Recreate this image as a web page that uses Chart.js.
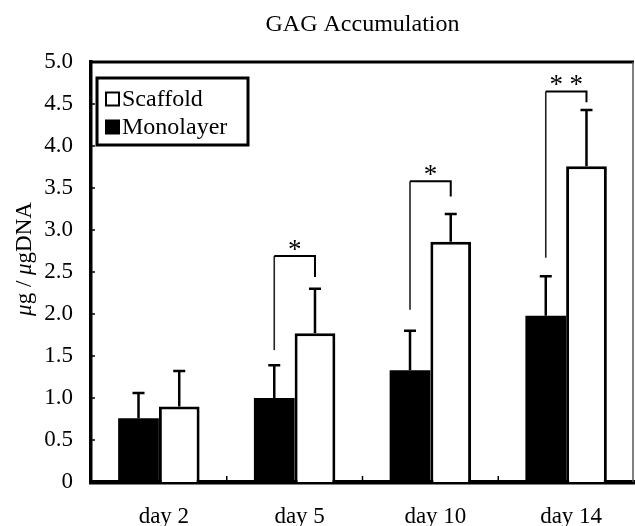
<!DOCTYPE html>
<html>
<head>
<meta charset="utf-8">
<script src="https://cdn.jsdelivr.net/npm/chart.js@4/dist/chart.umd.min.js"></script>
<style>
  html, body { margin: 0; padding: 0; background: #fff; }
  #wrap { width: 635px; height: 526px; }
</style>
</head>
<body>
<div id="wrap"><canvas id="chart"></canvas></div>
<script>
const chartTitle = 'GAG Accumulation';
const days = ['day 2', 'day 5', 'day 10', 'day 14'];
const monolayer = [0.76, 1.00, 1.33, 1.98];
const monolayerSD = [0.30, 0.39, 0.47, 0.47];
const scaffold = [0.90, 1.77, 2.86, 3.76];
const scaffoldSD = [0.42, 0.53, 0.33, 0.67];
const yTickLabels = ['0', '0.5', '1.0', '1.5', '2.0', '2.5', '3.0', '3.5', '4.0', '4.5', '5.0'];

// significance brackets (day index, top, left foot, right foot, mark)
const sigIndex = [1, 2, 3];
const sigTop = [2.69, 3.58, 4.65];
const sigLeftFoot = [1.57, 2.05, 2.67];
const sigRightFoot = [2.44, 3.40, 4.52];
const sigMark = ['*', '*', '* *'];

const SERIF = '"Liberation Serif", "Times New Roman", serif';

const extras = {
  id: 'extras',
  afterDatasetsDraw(chart) {
    const ctx = chart.ctx;
    const y = chart.scales.y;
    const x = chart.scales.x;
    const area = chart.chartArea;
    ctx.save();

    // title, centred over the plot area
    ctx.fillStyle = '#000';
    ctx.font = '24px ' + SERIF;
    ctx.textAlign = 'center';
    ctx.textBaseline = 'alphabetic';
    ctx.fillText(chartTitle, (area.left + area.right) / 2, 31);

    // error bars (upper only)
    [[0, monolayer, monolayerSD], [1, scaffold, scaffoldSD]].forEach(([di, vals, sds]) => {
      const meta = chart.getDatasetMeta(di);
      meta.data.forEach((bar, i) => {
        const top = y.getPixelForValue(vals[i] + sds[i]);
        const base = y.getPixelForValue(vals[i]);
        ctx.strokeStyle = '#000';
        ctx.lineWidth = 2.5;
        ctx.beginPath();
        ctx.moveTo(bar.x, base);
        ctx.lineTo(bar.x, top);
        ctx.moveTo(bar.x - 6, top);
        ctx.lineTo(bar.x + 6, top);
        ctx.stroke();
      });
    });

    // brackets
    const mMeta = chart.getDatasetMeta(0);
    const sMeta = chart.getDatasetMeta(1);
    sigIndex.forEach((idx, k) => {
      const lx = mMeta.data[idx].x;
      const rx = sMeta.data[idx].x;
      const ty = y.getPixelForValue(sigTop[k]);
      ctx.strokeStyle = '#222';
      ctx.lineWidth = 1.6;
      ctx.beginPath();
      ctx.moveTo(lx, y.getPixelForValue(sigLeftFoot[k]));
      ctx.lineTo(lx, ty);
      ctx.stroke();
      ctx.strokeStyle = '#000';
      ctx.lineWidth = 2;
      ctx.beginPath();
      ctx.moveTo(lx, ty);
      ctx.lineTo(rx, ty);
      ctx.lineTo(rx, y.getPixelForValue(sigRightFoot[k]));
      ctx.stroke();
      ctx.fillStyle = '#000';
      ctx.font = '27px ' + SERIF;
      ctx.textAlign = 'center';
      ctx.textBaseline = 'alphabetic';
      const cx = (lx + rx) / 2;
      const stars = sigMark[k].split(' ');
      stars.forEach((s, j) => {
        const off = (j - (stars.length - 1) / 2) * 20;
        ctx.fillText(s, cx + off, ty + 2);
      });
    });

    // frame: top and right
    ctx.strokeStyle = '#000';
    ctx.lineWidth = 3;
    ctx.beginPath();
    ctx.moveTo(area.left - 1, area.top);
    ctx.lineTo(area.right, area.top);
    ctx.stroke();
    ctx.strokeStyle = '#555';
    ctx.lineWidth = 1.5;
    ctx.beginPath();
    ctx.moveTo(area.right - 1, area.top);
    ctx.lineTo(area.right - 1, area.bottom);
    ctx.stroke();

    // inner ticks on y axis
    ctx.strokeStyle = '#000';
    ctx.lineWidth = 1.5;
    y.ticks.forEach(t => {
      const py = y.getPixelForValue(t.value);
      ctx.beginPath();
      ctx.moveTo(area.left, py);
      ctx.lineTo(area.left + 4, py);
      ctx.stroke();
    });
    // inner ticks on x axis, between categories
    const half = (x.getPixelForValue(1) - x.getPixelForValue(0)) / 2;
    for (let i = 0; i < days.length - 1; i++) {
      const px = x.getPixelForValue(i) + half;
      ctx.beginPath();
      ctx.moveTo(px, area.bottom);
      ctx.lineTo(px, area.bottom - 6);
      ctx.stroke();
    }

    // legend box
    const lx0 = area.left + 6, ly0 = area.top + 16, lw = 151, lh = 67;
    ctx.fillStyle = '#fff';
    ctx.fillRect(lx0, ly0, lw, lh);
    ctx.strokeStyle = '#000';
    ctx.lineWidth = 3;
    ctx.strokeRect(lx0, ly0, lw, lh);
    ctx.font = '24px ' + SERIF;
    ctx.textAlign = 'left';
    ctx.textBaseline = 'middle';
    const items = [['Scaffold', '#fff'], ['Monolayer', '#000']];
    items.forEach(([label, fill], i) => {
      const cy = ly0 + 21 + i * 28;
      ctx.fillStyle = fill;
      ctx.fillRect(lx0 + 9, cy - 6.5, 13, 13);
      ctx.strokeStyle = '#000';
      ctx.lineWidth = 2;
      ctx.strokeRect(lx0 + 9, cy - 6.5, 13, 13);
      ctx.fillStyle = '#000';
      ctx.fillText(label, lx0 + 25, cy + 1);
    });

    // y axis title with italic mu
    ctx.translate(31, 259);
    ctx.rotate(-Math.PI / 2);
    const parts = [['\u03bc', true], ['g / ', false], ['\u03bc', true], ['gDNA', false]];
    let total = 0;
    parts.forEach(([t, it]) => {
      ctx.font = (it ? 'italic ' : '') + '23px ' + SERIF;
      total += ctx.measureText(t).width;
    });
    let pos = -total / 2;
    ctx.textBaseline = 'alphabetic';
    ctx.fillStyle = '#000';
    parts.forEach(([t, it]) => {
      ctx.font = (it ? 'italic ' : '') + '23px ' + SERIF;
      ctx.fillText(t, pos, 0);
      pos += ctx.measureText(t).width;
    });
    ctx.restore();
  }
};

new Chart(document.getElementById('chart'), {
  type: 'bar',
  data: {
    labels: days,
    datasets: [
      { label: 'Monolayer', data: monolayer, backgroundColor: '#000', borderColor: '#000', borderWidth: 0 },
      { label: 'Scaffold', data: scaffold, backgroundColor: '#fff', borderColor: '#000', borderWidth: 3, borderSkipped: 'bottom' }
    ]
  },
  options: {
    responsive: true,
    maintainAspectRatio: false,
    animation: false,
    categoryPercentage: 0.6,
    barPercentage: 1.0,
    layout: { padding: { left: 0, right: 1, top: 62, bottom: 0 } },
    plugins: {
      legend: { display: false },
      tooltip: { enabled: false },
      title: { display: false }
    },
    scales: {
      x: {
        grid: { display: false, drawTicks: false },
        border: { display: true, color: '#000', width: 4.5 },
        ticks: { color: '#000', font: { family: SERIF, size: 23 }, padding: 21, labelOffset: 5 },
        afterFit: s => { s.height = 44; }
      },
      y: {
        min: 0,
        max: 5,
        grid: { display: false, drawTicks: false },
        border: { display: true, color: '#000', width: 3.5 },
        ticks: {
          stepSize: 0.5,
          color: '#000',
          font: { family: SERIF, size: 23 },
          padding: 18,
          callback: (v, i) => yTickLabels[i]
        },
        afterFit: s => { s.width = 91; }
      }
    }
  },
  plugins: [extras]
});
</script>
</body>
</html>
